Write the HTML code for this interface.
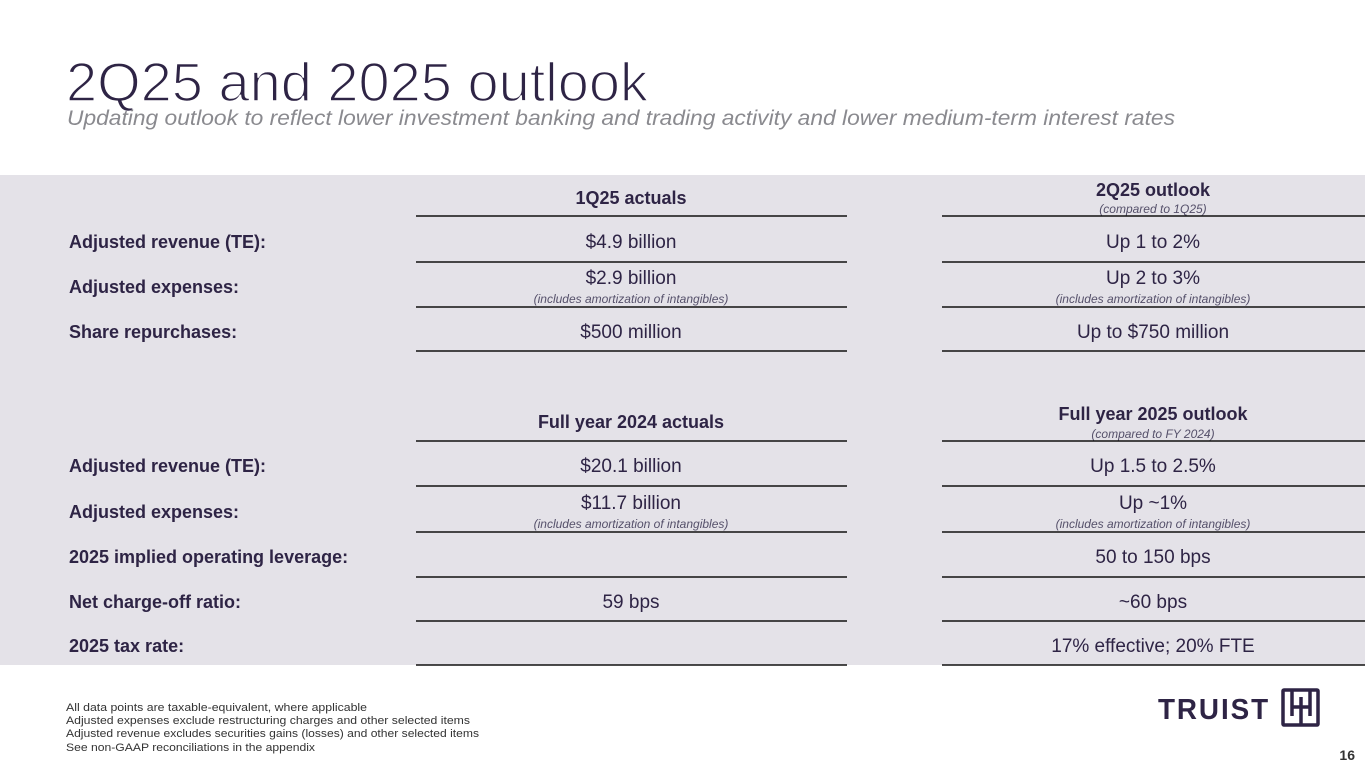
<!DOCTYPE html>
<html><head><meta charset="utf-8"><style>
html,body{margin:0;padding:0;background:#fff;}
svg{display:block;font-family:"Liberation Sans",sans-serif;}
</style></head><body>
<svg width="1365" height="768" viewBox="0 0 1365 768">
<text x="66" y="101" font-size="55" fill="#2e2445" stroke="#fff" stroke-width="1.6" paint-order="normal" textLength="582" lengthAdjust="spacingAndGlyphs">2Q25 and 2025 outlook</text>
<text x="67" y="125" font-size="21" font-style="italic" fill="#8a8a8f" textLength="1108" lengthAdjust="spacingAndGlyphs">Updating outlook to reflect lower investment banking and trading activity and lower medium-term interest rates</text>
<rect x="0" y="175" width="1365" height="490" fill="#e4e2e8"/>
<g fill="#2e2445">
<g font-size="18" font-weight="bold" text-anchor="middle">
<text x="631" y="204">1Q25 actuals</text>
<text x="1153" y="196">2Q25 outlook</text>
<text x="631" y="428">Full year 2024 actuals</text>
<text x="1153" y="420">Full year 2025 outlook</text>
</g>
<g font-size="12" font-style="italic" text-anchor="middle" fill="#55506a">
<text x="1153" y="213">(compared to 1Q25)</text>
<text x="1153" y="438">(compared to FY 2024)</text>
<text x="631" y="303">(includes amortization of intangibles)</text>
<text x="1153" y="303">(includes amortization of intangibles)</text>
<text x="631" y="528">(includes amortization of intangibles)</text>
<text x="1153" y="528">(includes amortization of intangibles)</text>
</g>
<g font-size="18" font-weight="bold">
<text x="69" y="248">Adjusted revenue (TE):</text>
<text x="69" y="293">Adjusted expenses:</text>
<text x="69" y="338">Share repurchases:</text>
<text x="69" y="472">Adjusted revenue (TE):</text>
<text x="69" y="518">Adjusted expenses:</text>
<text x="69" y="563">2025 implied operating leverage:</text>
<text x="69" y="608">Net charge-off ratio:</text>
<text x="69" y="652">2025 tax rate:</text>
</g>
<g font-size="19" text-anchor="middle">
<text x="631" y="248">$4.9 billion</text>
<text x="1153" y="248">Up 1 to 2%</text>
<text x="631" y="284">$2.9 billion</text>
<text x="1153" y="284">Up 2 to 3%</text>
<text x="631" y="338">$500 million</text>
<text x="1153" y="338">Up to $750 million</text>
<text x="631" y="472">$20.1 billion</text>
<text x="1153" y="472">Up 1.5 to 2.5%</text>
<text x="631" y="509">$11.7 billion</text>
<text x="1153" y="509">Up ~1%</text>
<text x="1153" y="563">50 to 150 bps</text>
<text x="631" y="608">59 bps</text>
<text x="1153" y="608">~60 bps</text>
<text x="1153" y="652">17% effective; 20% FTE</text>
</g>
<g stroke="#111" stroke-width="1.5">
<line x1="416" x2="847" y1="216" y2="216"/><line x1="942" x2="1365" y1="216" y2="216"/>
<line x1="416" x2="847" y1="262" y2="262"/><line x1="942" x2="1365" y1="262" y2="262"/>
<line x1="416" x2="847" y1="307" y2="307"/><line x1="942" x2="1365" y1="307" y2="307"/>
<line x1="416" x2="847" y1="351" y2="351"/><line x1="942" x2="1365" y1="351" y2="351"/>
<line x1="416" x2="847" y1="441" y2="441"/><line x1="942" x2="1365" y1="441" y2="441"/>
<line x1="416" x2="847" y1="486" y2="486"/><line x1="942" x2="1365" y1="486" y2="486"/>
<line x1="416" x2="847" y1="532" y2="532"/><line x1="942" x2="1365" y1="532" y2="532"/>
<line x1="416" x2="847" y1="577" y2="577"/><line x1="942" x2="1365" y1="577" y2="577"/>
<line x1="416" x2="847" y1="621" y2="621"/><line x1="942" x2="1365" y1="621" y2="621"/>
<line x1="416" x2="847" y1="665" y2="665"/><line x1="942" x2="1365" y1="665" y2="665"/>
</g>
</g>
<g font-size="11" fill="#333">
<text x="66" y="711" textLength="301" lengthAdjust="spacingAndGlyphs">All data points are taxable-equivalent, where applicable</text>
<text x="66" y="724" textLength="404" lengthAdjust="spacingAndGlyphs">Adjusted expenses exclude restructuring charges and other selected items</text>
<text x="66" y="737" textLength="413" lengthAdjust="spacingAndGlyphs">Adjusted revenue excludes securities gains (losses) and other selected items</text>
<text x="66" y="751" textLength="249" lengthAdjust="spacingAndGlyphs">See non-GAAP reconciliations in the appendix</text>
</g>
<g>
<text x="1158" y="719" font-size="29" font-weight="bold" fill="#2e2445" letter-spacing="2" textLength="112" lengthAdjust="spacingAndGlyphs">TRUIST</text>
<rect x="1283" y="690" width="35" height="35" fill="none" stroke="#2e2445" stroke-width="3.5" rx="1"/>
<path d="M1292 690v26M1292 707h9M1301 697v28M1301 707h9M1310 690v26" stroke="#2e2445" stroke-width="3.5" fill="none"/>
</g>
<text x="1355" y="760" font-size="14" font-weight="bold" fill="#333" text-anchor="end">16</text>
</svg>
</body></html>
